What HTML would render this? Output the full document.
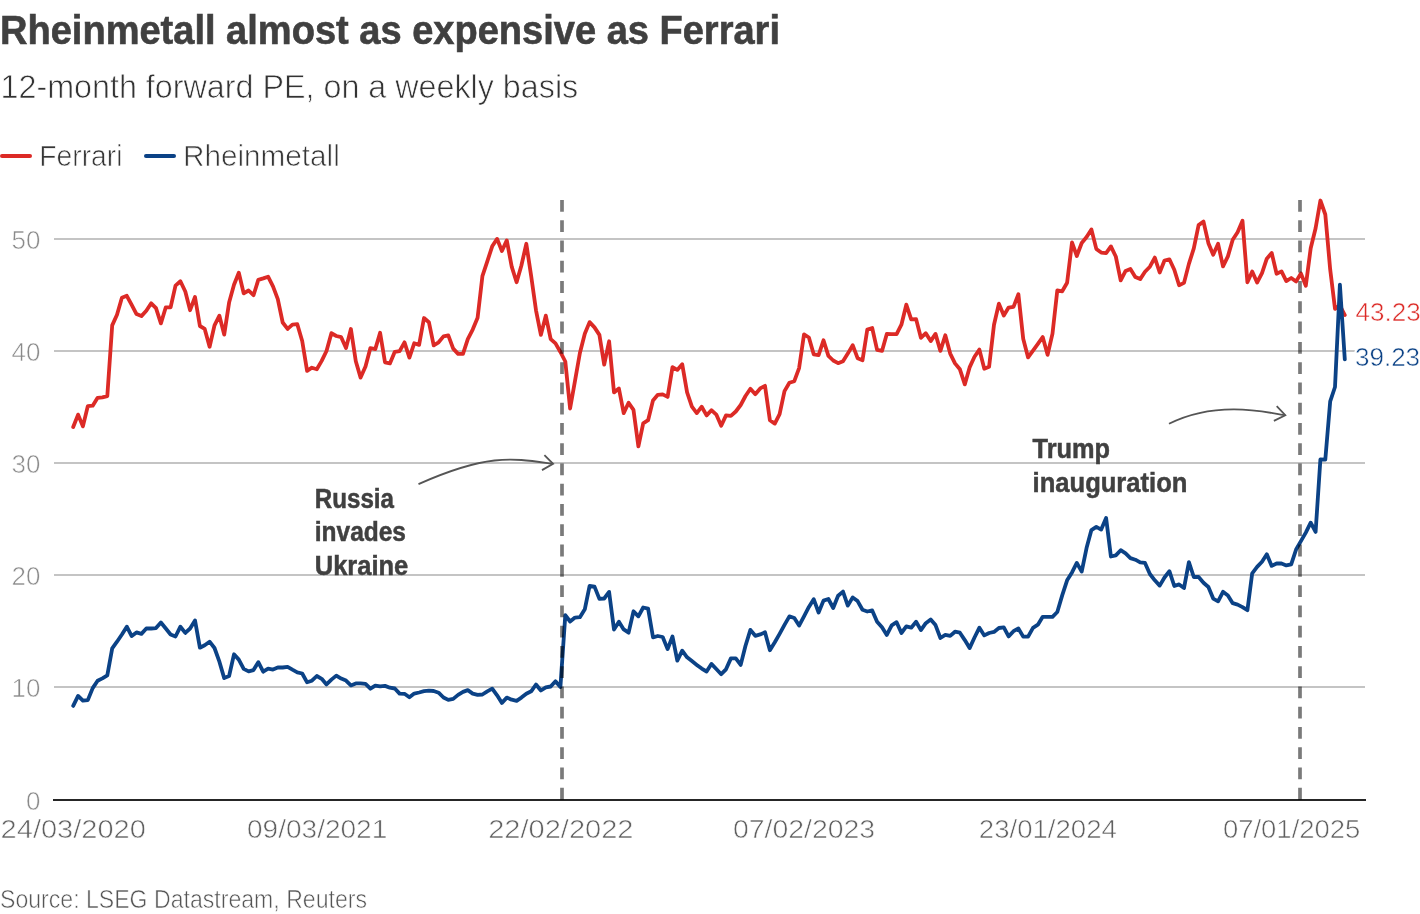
<!DOCTYPE html>
<html><head><meta charset="utf-8"><style>
html,body{margin:0;padding:0;background:#fff;width:1420px;height:914px;overflow:hidden}
svg{display:block;will-change:transform}
text{font-family:"Liberation Sans", sans-serif}
</style></head><body>
<svg width="1420" height="914" viewBox="0 0 1420 914">
<rect width="1420" height="914" fill="#fff"/>
<text x="0" y="43.9" font-size="40.5" font-weight="bold" fill="#404040" stroke="#404040" stroke-width="0.6" textLength="780" lengthAdjust="spacingAndGlyphs">Rheinmetall almost as expensive as Ferrari</text>
<text x="0.5" y="97.7" font-size="34" fill="#333" stroke="#fff" stroke-width="0.75" textLength="577.7" lengthAdjust="spacingAndGlyphs">12-month forward PE, on a weekly basis</text>
<line x1="2" y1="156" x2="30" y2="156" stroke="#dc2a26" stroke-width="4" stroke-linecap="round"/>
<text x="39.3" y="166" font-size="30" fill="#363636" stroke="#fff" stroke-width="0.7" textLength="83.2" lengthAdjust="spacingAndGlyphs">Ferrari</text>
<line x1="146" y1="156" x2="174" y2="156" stroke="#0b4286" stroke-width="4" stroke-linecap="round"/>
<text x="183" y="166" font-size="30" fill="#363636" stroke="#fff" stroke-width="0.7" textLength="156.8" lengthAdjust="spacingAndGlyphs">Rheinmetall</text>
<line x1="54" y1="687.00" x2="1365" y2="687.00" stroke="#c4c4c4" stroke-width="2"/>
<text x="40.5" y="696.6" font-size="26" fill="#8a8a8a" stroke="#fff" stroke-width="0.6" text-anchor="end">10</text>
<line x1="54" y1="575.00" x2="1365" y2="575.00" stroke="#c4c4c4" stroke-width="2"/>
<text x="40.5" y="584.6" font-size="26" fill="#8a8a8a" stroke="#fff" stroke-width="0.6" text-anchor="end">20</text>
<line x1="54" y1="463.00" x2="1365" y2="463.00" stroke="#c4c4c4" stroke-width="2"/>
<text x="40.5" y="472.6" font-size="26" fill="#8a8a8a" stroke="#fff" stroke-width="0.6" text-anchor="end">30</text>
<line x1="54" y1="351.00" x2="1365" y2="351.00" stroke="#c4c4c4" stroke-width="2"/>
<text x="40.5" y="360.6" font-size="26" fill="#8a8a8a" stroke="#fff" stroke-width="0.6" text-anchor="end">40</text>
<line x1="54" y1="239.00" x2="1365" y2="239.00" stroke="#c4c4c4" stroke-width="2"/>
<text x="40.5" y="248.6" font-size="26" fill="#8a8a8a" stroke="#fff" stroke-width="0.6" text-anchor="end">50</text>
<text x="40.5" y="810.2" font-size="26" fill="#8a8a8a" stroke="#fff" stroke-width="0.6" text-anchor="end">0</text>
<text x="0.6" y="837.7" font-size="26" fill="#606060" stroke="#fff" stroke-width="0.6" textLength="145.3" lengthAdjust="spacingAndGlyphs">24/03/2020</text>
<text x="247" y="837.7" font-size="26" fill="#606060" stroke="#fff" stroke-width="0.6" textLength="140.3" lengthAdjust="spacingAndGlyphs">09/03/2021</text>
<text x="488.2" y="837.7" font-size="26" fill="#606060" stroke="#fff" stroke-width="0.6" textLength="145.3" lengthAdjust="spacingAndGlyphs">22/02/2022</text>
<text x="732.9" y="837.7" font-size="26" fill="#606060" stroke="#fff" stroke-width="0.6" textLength="142.3" lengthAdjust="spacingAndGlyphs">07/02/2023</text>
<text x="978.8" y="837.7" font-size="26" fill="#606060" stroke="#fff" stroke-width="0.6" textLength="138.1" lengthAdjust="spacingAndGlyphs">23/01/2024</text>
<text x="1222.9" y="837.7" font-size="26" fill="#606060" stroke="#fff" stroke-width="0.6" textLength="137.5" lengthAdjust="spacingAndGlyphs">07/01/2025</text>
<line x1="53" y1="800" x2="1366" y2="800" stroke="#262626" stroke-width="2"/>
<path d="M73.2,427.0 L78.1,414.6 L82.9,426.4 L87.8,406.1 L92.7,405.7 L97.6,397.8 L102.4,397.4 L107.3,396.2 L112.2,325.4 L117.0,314.7 L121.9,297.8 L126.8,295.8 L131.7,304.9 L136.5,314.1 L141.4,316.1 L146.3,310.8 L151.2,303.3 L156.0,308.2 L160.9,323.4 L165.8,307.3 L170.6,307.3 L175.5,285.6 L180.4,281.3 L185.3,291.5 L190.1,310.2 L195.0,297.0 L199.9,326.0 L204.7,328.9 L209.6,346.7 L214.5,325.4 L219.4,315.7 L224.2,334.6 L229.1,302.6 L234.0,284.8 L238.8,272.7 L243.7,293.4 L248.6,290.5 L253.5,295.2 L258.3,279.9 L263.2,278.4 L268.1,276.7 L273.0,286.3 L277.8,299.1 L282.7,322.5 L287.6,328.9 L292.4,324.6 L297.3,324.2 L302.2,341.0 L307.1,370.9 L311.9,367.7 L316.8,369.2 L321.7,360.9 L326.5,351.0 L331.4,333.2 L336.3,336.0 L341.2,337.2 L346.0,348.1 L350.9,329.0 L355.8,361.3 L360.6,377.6 L365.5,366.5 L370.4,348.1 L375.3,349.1 L380.1,332.7 L385.0,362.3 L389.9,363.4 L394.8,351.8 L399.6,351.2 L404.5,342.3 L409.4,357.6 L414.2,343.3 L419.1,344.9 L424.0,318.0 L428.9,322.2 L433.7,345.4 L438.6,342.3 L443.5,336.4 L448.3,335.4 L453.2,348.6 L458.1,353.9 L463.0,353.9 L467.8,339.1 L472.7,329.6 L477.6,317.8 L482.4,276.2 L487.3,261.3 L492.2,246.3 L497.1,238.9 L501.9,251.0 L506.8,240.4 L511.7,266.6 L516.6,282.2 L521.4,265.5 L526.3,243.8 L531.2,276.2 L536.0,310.3 L540.9,334.9 L545.8,315.7 L550.7,339.1 L555.5,343.4 L560.4,352.0 L565.3,361.5 L570.1,408.5 L575.0,380.8 L579.9,353.0 L584.8,333.8 L589.6,322.1 L594.5,327.4 L599.4,334.9 L604.2,364.7 L609.1,341.3 L614.0,392.4 L618.9,388.5 L623.7,413.1 L628.6,402.8 L633.5,409.9 L638.4,446.4 L643.2,423.4 L648.1,420.2 L653.0,400.4 L657.8,394.8 L662.7,394.4 L667.6,396.9 L672.5,367.1 L677.3,369.9 L682.2,364.2 L687.1,392.4 L691.9,406.7 L696.8,413.1 L701.7,406.7 L706.6,415.4 L711.4,410.2 L716.3,414.6 L721.2,425.7 L726.0,415.4 L730.9,415.9 L735.8,411.5 L740.7,405.0 L745.5,396.0 L750.4,388.8 L755.3,394.2 L760.2,388.4 L765.0,385.8 L769.9,420.2 L774.8,423.6 L779.6,414.1 L784.5,391.1 L789.4,382.7 L794.3,381.2 L799.1,368.1 L804.0,334.4 L808.9,337.5 L813.7,354.3 L818.6,355.1 L823.5,340.3 L828.4,355.9 L833.2,360.5 L838.1,363.2 L843.0,361.2 L847.8,353.6 L852.7,345.2 L857.6,358.2 L862.5,360.2 L867.3,329.5 L872.2,328.0 L877.1,349.8 L882.0,350.9 L886.8,333.9 L891.7,334.1 L896.6,334.1 L901.4,324.7 L906.3,304.7 L911.2,319.4 L916.1,319.1 L920.9,337.8 L925.8,333.2 L930.7,341.1 L935.5,333.9 L940.4,350.9 L945.3,335.2 L950.2,353.6 L955.0,363.4 L959.9,369.3 L964.8,384.4 L969.6,367.4 L974.5,356.8 L979.4,349.6 L984.3,368.7 L989.1,366.7 L994.0,324.7 L998.9,303.6 L1003.8,315.5 L1008.6,307.6 L1013.5,306.9 L1018.4,294.3 L1023.2,338.7 L1028.1,357.4 L1033.0,350.6 L1037.9,343.8 L1042.7,337.0 L1047.6,354.8 L1052.5,333.6 L1057.3,290.4 L1062.2,291.3 L1067.1,282.8 L1072.0,242.5 L1076.8,256.0 L1081.7,243.0 L1086.6,237.0 L1091.4,229.4 L1096.3,248.9 L1101.2,252.6 L1106.1,253.1 L1110.9,246.4 L1115.8,256.5 L1120.7,280.3 L1125.6,270.9 L1130.4,268.9 L1135.3,276.9 L1140.2,279.1 L1145.0,271.8 L1149.9,266.7 L1154.8,257.6 L1159.7,272.5 L1164.5,260.5 L1169.4,259.3 L1174.3,269.7 L1179.1,285.2 L1184.0,282.9 L1188.9,263.9 L1193.8,248.4 L1198.6,225.1 L1203.5,221.6 L1208.4,243.2 L1213.2,254.7 L1218.1,243.8 L1223.0,266.4 L1227.9,256.4 L1232.7,239.8 L1237.6,232.3 L1242.5,220.8 L1247.4,282.3 L1252.2,271.4 L1257.1,282.5 L1262.0,273.1 L1266.8,258.7 L1271.7,253.0 L1276.6,273.7 L1281.5,271.4 L1286.3,281.1 L1291.2,278.0 L1296.1,281.5 L1300.9,273.4 L1305.8,285.7 L1310.7,248.2 L1315.6,228.3 L1320.4,200.5 L1325.3,214.5 L1330.2,269.6 L1335.0,308.8 L1339.9,305.5 L1344.8,315.0" fill="none" stroke="#dc2a26" stroke-width="3.8" stroke-linejoin="round" stroke-linecap="round"/>
<path d="M73.2,705.9 L78.1,695.9 L82.9,700.7 L87.8,700.1 L92.7,688.1 L97.6,680.8 L102.4,678.4 L107.3,675.4 L112.2,648.3 L117.0,641.7 L121.9,634.5 L126.8,626.7 L131.7,636.1 L136.5,632.4 L141.4,633.9 L146.3,628.5 L151.2,628.5 L156.0,628.1 L160.9,622.5 L165.8,628.5 L170.6,634.5 L175.5,636.5 L180.4,626.7 L185.3,632.9 L190.1,628.5 L195.0,620.4 L199.9,647.7 L204.7,645.3 L209.6,641.7 L214.5,648.0 L219.4,661.7 L224.2,678.1 L229.1,676.0 L234.0,654.3 L238.8,659.6 L243.7,668.9 L248.6,671.4 L253.5,670.1 L258.3,662.2 L263.2,671.7 L268.1,668.6 L273.0,669.6 L277.8,667.5 L282.7,667.5 L287.6,666.8 L292.4,669.6 L297.3,672.3 L302.2,673.5 L307.1,682.3 L311.9,680.7 L316.8,676.0 L321.7,678.8 L326.5,684.4 L331.4,679.6 L336.3,675.6 L341.2,678.6 L346.0,680.6 L350.9,685.4 L355.8,683.4 L360.6,683.4 L365.5,683.8 L370.4,688.7 L375.3,685.6 L380.1,686.4 L385.0,685.9 L389.9,687.7 L394.8,688.5 L399.6,693.6 L404.5,693.8 L409.4,697.2 L414.2,693.6 L419.1,692.5 L424.0,691.2 L428.9,690.6 L433.7,691.0 L438.6,692.7 L443.5,697.5 L448.3,699.9 L453.2,698.9 L458.1,694.9 L463.0,691.9 L467.8,690.1 L472.7,693.6 L477.6,694.9 L482.4,694.5 L487.3,691.3 L492.2,688.6 L497.1,695.3 L501.9,702.9 L506.8,697.6 L511.7,699.7 L516.6,700.8 L521.4,697.6 L526.3,693.7 L531.2,691.3 L536.0,684.5 L540.9,690.5 L545.8,687.3 L550.7,686.5 L555.5,681.3 L560.4,687.0 L565.3,615.2 L570.1,621.5 L575.0,617.6 L579.9,617.2 L584.8,609.3 L589.6,585.9 L594.5,586.6 L599.4,598.9 L604.2,598.5 L609.1,591.9 L614.0,629.5 L618.9,621.7 L623.7,629.4 L628.6,632.7 L633.5,611.3 L638.4,616.3 L643.2,607.5 L648.1,608.6 L653.0,637.3 L657.8,636.0 L662.7,637.0 L667.6,649.1 L672.5,636.5 L677.3,660.6 L682.2,650.7 L687.1,657.3 L691.9,661.1 L696.8,664.9 L701.7,668.6 L706.6,671.5 L711.4,663.9 L716.3,669.0 L721.2,674.2 L726.0,669.3 L730.9,658.4 L735.8,658.4 L740.7,664.9 L745.5,645.8 L750.4,629.9 L755.3,635.8 L760.2,634.4 L765.0,632.3 L769.9,650.2 L774.8,642.3 L779.6,633.9 L784.5,624.9 L789.4,616.4 L794.3,618.0 L799.1,625.6 L804.0,616.4 L808.9,606.9 L813.7,599.2 L818.6,612.5 L823.5,600.6 L828.4,599.0 L833.2,608.0 L838.1,595.8 L843.0,591.6 L847.8,605.6 L852.7,597.4 L857.6,601.1 L862.5,609.8 L867.3,611.5 L872.2,610.4 L877.1,621.7 L882.0,627.3 L886.8,634.9 L891.7,625.4 L896.6,622.2 L901.4,633.0 L906.3,626.4 L911.2,627.7 L916.1,621.7 L920.9,630.1 L925.8,623.2 L930.7,619.5 L935.5,625.1 L940.4,638.0 L945.3,634.9 L950.2,635.9 L955.0,631.7 L959.9,632.7 L964.8,640.1 L969.6,648.1 L974.5,637.5 L979.4,627.7 L984.3,635.4 L989.1,633.0 L994.0,631.9 L998.9,628.0 L1003.8,627.3 L1008.6,636.4 L1013.5,631.2 L1018.4,628.5 L1023.2,636.6 L1028.1,636.6 L1033.0,627.9 L1037.9,624.7 L1042.7,616.8 L1047.6,616.8 L1052.5,616.8 L1057.3,612.0 L1062.2,595.4 L1067.1,580.3 L1072.0,572.4 L1076.8,562.9 L1081.7,571.6 L1086.6,547.8 L1091.4,530.1 L1096.3,526.9 L1101.2,529.6 L1106.1,518.0 L1110.9,556.5 L1115.8,555.4 L1120.7,550.2 L1125.6,553.4 L1130.4,558.1 L1135.3,559.7 L1140.2,562.4 L1145.0,562.9 L1149.9,574.0 L1154.8,580.3 L1159.7,585.6 L1164.5,577.5 L1169.4,571.2 L1174.3,586.0 L1179.1,584.4 L1184.0,588.1 L1188.9,562.2 L1193.8,577.0 L1198.6,577.0 L1203.5,582.8 L1208.4,587.0 L1213.2,598.6 L1218.1,601.3 L1223.0,591.8 L1227.9,595.5 L1232.7,603.2 L1237.6,604.6 L1242.5,607.1 L1247.4,610.2 L1252.2,573.3 L1257.1,566.9 L1262.0,561.7 L1266.8,554.3 L1271.7,565.9 L1276.6,563.5 L1281.5,563.5 L1286.3,565.4 L1291.2,564.3 L1296.1,549.5 L1300.9,541.1 L1305.8,532.6 L1310.7,522.7 L1315.6,531.9 L1320.4,459.4 L1325.3,459.7 L1330.2,401.3 L1335.0,387.0 L1339.9,284.6 L1344.8,359.3" fill="none" stroke="#0b4286" stroke-width="3.8" stroke-linejoin="round" stroke-linecap="round"/>
<line x1="562" y1="200" x2="562" y2="800" stroke="#000" stroke-opacity="0.52" stroke-width="3.7" stroke-dasharray="11.8 8.47"/>
<line x1="1300" y1="200" x2="1300" y2="800" stroke="#000" stroke-opacity="0.52" stroke-width="3.7" stroke-dasharray="11.8 8.47"/>
<text x="1355.6" y="320.8" font-size="26" fill="#fff" stroke="#fff" stroke-width="4">43.23</text>
<text x="1355.6" y="320.8" font-size="26" fill="#dc2a26" stroke="#fff" stroke-width="0.5">43.23</text>
<text x="1355" y="365.7" font-size="26" fill="#fff" stroke="#fff" stroke-width="4">39.23</text>
<text x="1355" y="365.7" font-size="26" fill="#0b4286" stroke="#fff" stroke-width="0.5">39.23</text>
<text x="314.8" y="507.6" font-size="27" font-weight="bold" fill="#404040" stroke="#404040" stroke-width="0.5" textLength="79.2" lengthAdjust="spacingAndGlyphs">Russia</text>
<text x="314.8" y="541.4" font-size="27" font-weight="bold" fill="#404040" stroke="#404040" stroke-width="0.5" textLength="91.2" lengthAdjust="spacingAndGlyphs">invades</text>
<text x="314.8" y="575.3" font-size="27" font-weight="bold" fill="#404040" stroke="#404040" stroke-width="0.5" textLength="93.5" lengthAdjust="spacingAndGlyphs">Ukraine</text>
<text x="1032.6" y="458.1" font-size="27" font-weight="bold" fill="#404040" stroke="#404040" stroke-width="0.5" textLength="77.4" lengthAdjust="spacingAndGlyphs">Trump</text>
<text x="1032.6" y="492" font-size="27" font-weight="bold" fill="#404040" stroke="#404040" stroke-width="0.5" textLength="154.8" lengthAdjust="spacingAndGlyphs">inauguration</text>
<path d="M418.5,484.1 C488.7,452.8 513.8,458.4 553.1,463.8" fill="none" stroke="#555" stroke-width="1.8"/>
<path d="M544.4,455.2 L553.1,463.8 L542,470.1" fill="none" stroke="#555" stroke-width="1.8"/>
<path d="M1169,423.8 C1222.1,397 1280.2,415.8 1285.3,415.2" fill="none" stroke="#555" stroke-width="1.8"/>
<path d="M1276.7,406.2 L1285.3,415.2 L1273.9,420.9" fill="none" stroke="#555" stroke-width="1.8"/>
<text x="0" y="908" font-size="26" fill="#555" stroke="#fff" stroke-width="0.6" textLength="367" lengthAdjust="spacingAndGlyphs">Source: LSEG Datastream, Reuters</text>
</svg></body></html>
